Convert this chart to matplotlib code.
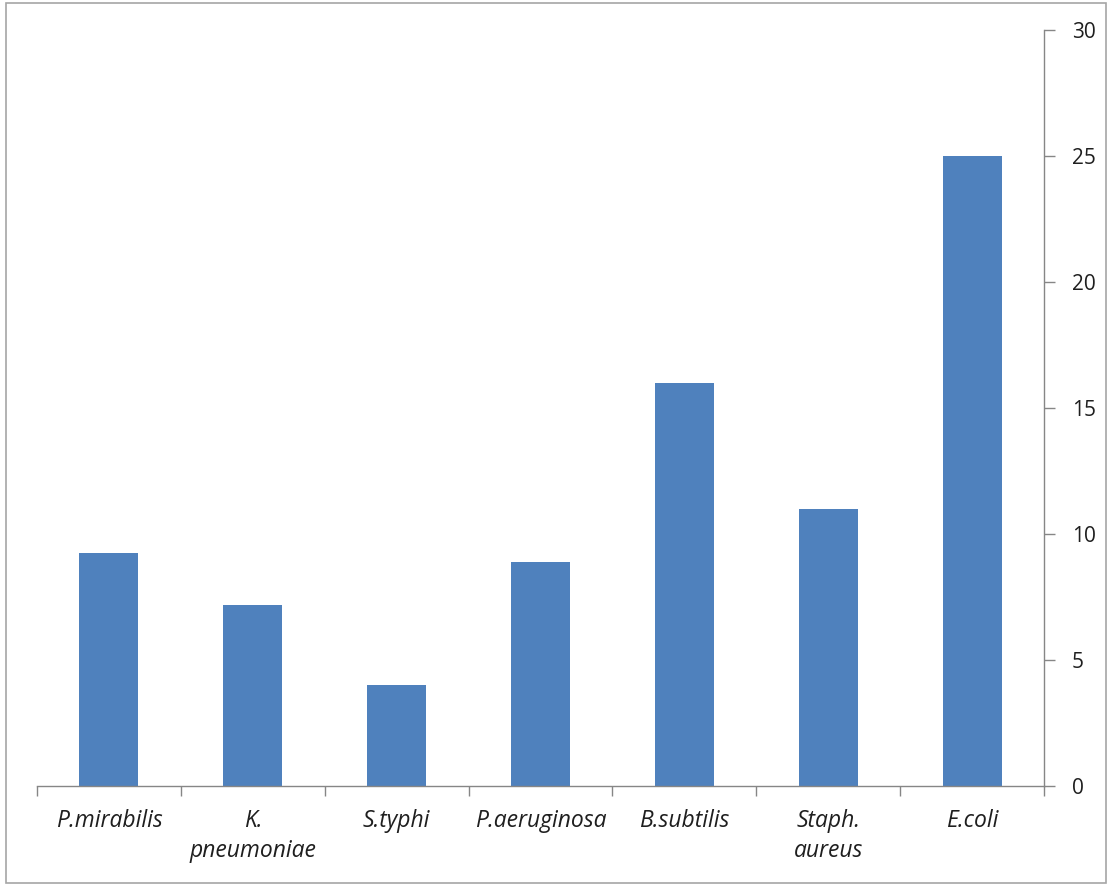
import matplotlib
matplotlib.use("Agg")
import matplotlib.pyplot as plt
from matplotlib.patches import Rectangle

categories = ["P.mirabilis", "K.\npneumoniae", "S.typhi", "P.aeruginosa",
              "B.subtilis", "Staph.\naureus", "E.coli"]
values = [9.25, 7.2, 4.0, 8.9, 16.0, 11.0, 25.0]
y_ticks = [0, 5, 10, 15, 20, 25, 30]

bar_color = "#4F81BD"
axis_color = "#868686"
text_color = "#1F1F1F"

plt.rcParams["font.family"] = ["Open Sans", "DejaVu Sans"]

fig = plt.figure(figsize=(11.09, 8.86), dpi=100)
ax = fig.add_axes([37 / 1109, 100 / 886, (1044 - 37) / 1109, (856 - 100) / 886])

x = list(range(len(categories)))
ax.bar(x, values, width=0.41, color=bar_color, zorder=2)

ax.set_xlim(-0.5, len(categories) - 0.5)
ax.set_ylim(0, 30)

# value axis on the right
ax.yaxis.tick_right()
ax.set_yticks(y_ticks)
ax.set_yticklabels([str(v) for v in y_ticks], fontsize=15, color=text_color)
ax.tick_params(axis="y", direction="out", length=8, width=1, color=axis_color, pad=12)

# category ticks sit on the boundaries between bars
ax.set_xticks([i - 0.5 for i in range(len(categories) + 1)])
ax.set_xticklabels([])
ax.tick_params(axis="x", direction="out", length=7, width=1, color=axis_color)
for i, name in enumerate(categories):
    ax.text(i, -0.9, name, ha="center", va="top", fontsize=16.5, style="italic",
            color=text_color, linespacing=1.35, transform=ax.transData)

for side in ["top", "left"]:
    ax.spines[side].set_visible(False)
for side in ["bottom", "right"]:
    ax.spines[side].set_color(axis_color)
    ax.spines[side].set_linewidth(1)

# outer frame of the chart area
fig.patches.append(Rectangle((6 / 1109, 3 / 886), 1100 / 1109, 880 / 886,
                             transform=fig.transFigure, fill=False,
                             edgecolor="#A6A6A6", linewidth=1.2))

fig.savefig("out.png", dpi=100)
